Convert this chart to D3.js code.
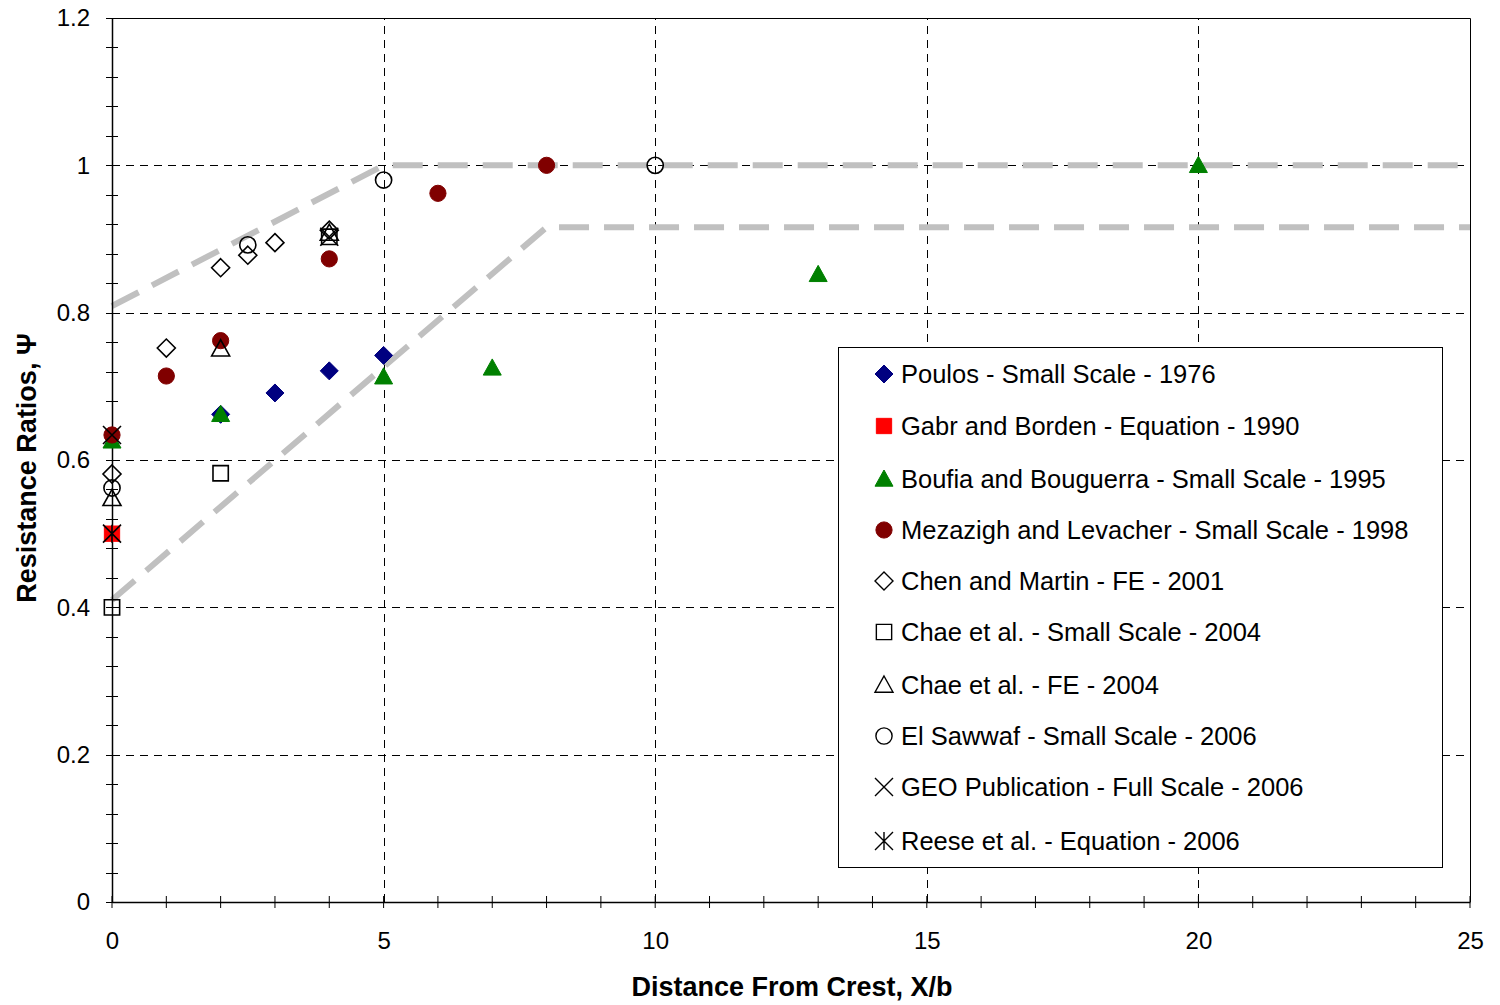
<!DOCTYPE html>
<html>
<head>
<meta charset="utf-8">
<script src="https://cdn.jsdelivr.net/npm/d3@7"></script>
<style>
  body { margin: 0; background: #fff; }
  text { font-family: "Liberation Sans", Arial, sans-serif; }
</style>
</head>
<body>
<script>
// data
const poulos = [[2, 0.662], [3, 0.691], [4, 0.721], [5, 0.742]]
const gabr = [[0, 0.5]]
const boufia = [[0, 0.626], [2, 0.662], [5, 0.713], [7, 0.725], [13, 0.852], [20, 1.0]]
const mezazigh = [[0, 0.634], [1, 0.714], [2, 0.762], [4, 0.873], [6, 0.962], [8, 1.0]]
const chen = [[0, 0.581], [1, 0.752], [2, 0.861], [2.5, 0.878], [3, 0.895], [4, 0.912]]
const chaeSmall = [[0, 0.4], [2, 0.582], [4, 0.903]]
const chaeFE = [[0, 0.548], [2, 0.751], [4, 0.908]]
const elSawwaf = [[0, 0.562], [2.5, 0.892], [5, 0.98], [10, 1.0]]
const geo = [[0, 0.634], [4, 0.903]]
const reese = [[0, 0.5]]
const upperBound = [[0, 0.809], [5, 1.0], [25, 1.0]]
const lowerBound = [[0, 0.41], [8, 0.916], [25, 0.916]]
const xTicks = [0, 5, 10, 15, 20, 25]
const yTicks = [0, 0.2, 0.4, 0.6, 0.8, 1.0, 1.2]

const series = [
    { name: "Poulos - Small Scale - 1976", data: poulos, shape: "diamond", fill: "#000080", stroke: "#000080" },
    { name: "Gabr and Borden - Equation - 1990", data: gabr, shape: "square", fill: "#ff0000", stroke: "#ff0000" },
    { name: "Boufia and Bouguerra - Small Scale - 1995", data: boufia, shape: "triangle", fill: "#008000", stroke: "#008000" },
    { name: "Mezazigh and Levacher - Small Scale - 1998", data: mezazigh, shape: "circle", fill: "#800000", stroke: "#800000" },
    { name: "Chen and Martin - FE - 2001", data: chen, shape: "diamond", fill: "none", stroke: "#000" },
    { name: "Chae et al. - Small Scale - 2004", data: chaeSmall, shape: "square", fill: "none", stroke: "#000" },
    { name: "Chae et al. - FE - 2004", data: chaeFE, shape: "triangle", fill: "none", stroke: "#000" },
    { name: "El Sawwaf - Small Scale - 2006", data: elSawwaf, shape: "circle", fill: "none", stroke: "#000" },
    { name: "GEO Publication - Full Scale - 2006", data: geo, shape: "x", fill: "none", stroke: "#000" },
    { name: "Reese et al. - Equation - 2006", data: reese, shape: "star", fill: "none", stroke: "#000" },
]

const width = 1500, height = 1005
const margin = { left: 112, right: 30, top: 18, bottom: 103 }

const x = d3.scaleLinear().domain([0, 25]).range([margin.left, width - margin.right])
const y = d3.scaleLinear().domain([0, 1.2]).range([height - margin.bottom, margin.top])

const svg = d3.select("body").append("svg")
    .attr("width", width)
    .attr("height", height)

// grid
const grid = svg.append("g")
    .attr("stroke", "#000")
    .attr("stroke-width", 1)
    .attr("stroke-dasharray", "8,6")
grid.selectAll("line.gx")
    .data(xTicks.slice(1, -1))
    .join("line")
    .attr("x1", (d) => Math.round(x(d)) + 0.5)
    .attr("x2", (d) => Math.round(x(d)) + 0.5)
    .attr("y1", y(0))
    .attr("y2", y(1.2))
grid.selectAll("line.gy")
    .data(yTicks.slice(1, -1))
    .join("line")
    .attr("class", "gy")
    .attr("x1", x(0))
    .attr("x2", x(25))
    .attr("y1", (d) => Math.round(y(d)) + 0.5)
    .attr("y2", (d) => Math.round(y(d)) + 0.5)

// frame top/right
svg.append("path")
    .attr("fill", "none")
    .attr("stroke", "#000")
    .attr("d", `M${x(0)},${y(1.2) + 0.5}H${x(25) + 0.5}V${y(0)}`)

// bounds
const line = d3.line().x((d) => x(d[0])).y((d) => y(d[1]))
svg.selectAll("path.bound")
    .data([upperBound, lowerBound])
    .join("path")
    .attr("class", "bound")
    .attr("fill", "none")
    .attr("stroke", "#c0c0c0")
    .attr("stroke-width", 6)
    .attr("stroke-dasharray", "30,15")
    .attr("d", line)

// axes
const axisX = d3.axisBottom(x).tickValues(xTicks).tickSize(0).tickPadding(30)
const gx = svg.append("g")
    .attr("transform", `translate(0,${y(0)})`)
    .call(axisX)
gx.select(".domain").attr("stroke-width", 1.5)
gx.selectAll("text").attr("font-size", 24).attr("font-family", "Liberation Sans, Arial")
gx.selectAll("line.minor")
    .data(d3.range(0, 26))
    .join("line")
    .attr("class", "minor")
    .attr("stroke", "#000")
    .attr("x1", (d) => x(d))
    .attr("x2", (d) => x(d))
    .attr("y1", -6)
    .attr("y2", 6)

const axisY = d3.axisLeft(y).tickValues(yTicks).tickSize(0).tickPadding(22)
    .tickFormat((d) => d3.format("~g")(d))
const gy = svg.append("g")
    .attr("transform", `translate(${x(0)},0)`)
    .call(axisY)
gy.select(".domain").attr("stroke-width", 1.5)
gy.selectAll("text").attr("font-size", 24).attr("font-family", "Liberation Sans, Arial")
gy.selectAll("line.minor")
    .data(d3.range(0, 31).map((i) => i * 0.04))
    .join("line")
    .attr("class", "minor")
    .attr("stroke", "#000")
    .attr("x1", -6)
    .attr("x2", 6)
    .attr("y1", (d) => Math.round(y(d)) + 0.5)
    .attr("y2", (d) => Math.round(y(d)) + 0.5)

// axis titles
svg.append("text")
    .attr("x", 792)
    .attr("y", 996)
    .attr("text-anchor", "middle")
    .attr("font-size", 27)
    .attr("font-weight", "bold")
    .text("Distance From Crest, X/b")
svg.append("text")
    .attr("transform", `translate(36,468) rotate(-90)`)
    .attr("text-anchor", "middle")
    .attr("font-size", 27)
    .attr("font-weight", "bold")
    .text("Resistance Ratios, Ψ")

// marker shapes, s = half size
function shapePath(shape, s) {
    switch (shape) {
        case "diamond": return `M0,${-s}L${s},0L0,${s}L${-s},0Z`
        case "square": return `M${-s * 0.85},${-s * 0.85}H${s * 0.85}V${s * 0.85}H${-s * 0.85}Z`
        case "triangle": return `M0,${-s}L${s},${s * 0.8}H${-s}Z`
        case "circle": return `M${s * 0.9},0A${s * 0.9},${s * 0.9} 0 1,1 ${-s * 0.9},0A${s * 0.9},${s * 0.9} 0 1,1 ${s * 0.9},0Z`
        case "x": return `M${-s},${-s}L${s},${s}M${s},${-s}L${-s},${s}`
        case "star": return `M${-s},${-s}L${s},${s}M${s},${-s}L${-s},${s}M0,${-s}V${s}`
    }
}

const marks = svg.append("g")
series.forEach((sr) => {
    marks.append("g")
        .selectAll("path")
        .data(sr.data)
        .join("path")
        .attr("transform", (d) => `translate(${x(d[0])},${y(d[1])})`)
        .attr("d", shapePath(sr.shape, 9))
        .attr("fill", sr.fill)
        .attr("stroke", sr.stroke)
        .attr("stroke-width", sr.fill === "none" ? 1.6 : 1)
})

// legend
const legend = svg.append("g").attr("transform", "translate(838,347)")
legend.append("rect")
    .attr("x", 0.5)
    .attr("y", 0.5)
    .attr("width", 604)
    .attr("height", 520)
    .attr("fill", "#fff")
    .attr("stroke", "#000")
const rowY = [27, 79, 132, 183, 234, 285, 338, 389, 440, 494]
const item = legend.selectAll("g.item")
    .data(series)
    .join("g")
    .attr("class", "item")
    .attr("transform", (d, i) => `translate(0,${rowY[i]})`)
item.append("path")
    .attr("transform", "translate(46,0)")
    .attr("d", (d) => shapePath(d.shape, 9))
    .attr("fill", (d) => d.fill)
    .attr("stroke", (d) => d.stroke)
    .attr("stroke-width", (d) => d.fill === "none" ? 1.4 : 1)
item.append("text")
    .attr("x", 63)
    .attr("y", 9)
    .attr("font-size", 25.5)
    .text((d) => d.name)
</script>
</body>
</html>
